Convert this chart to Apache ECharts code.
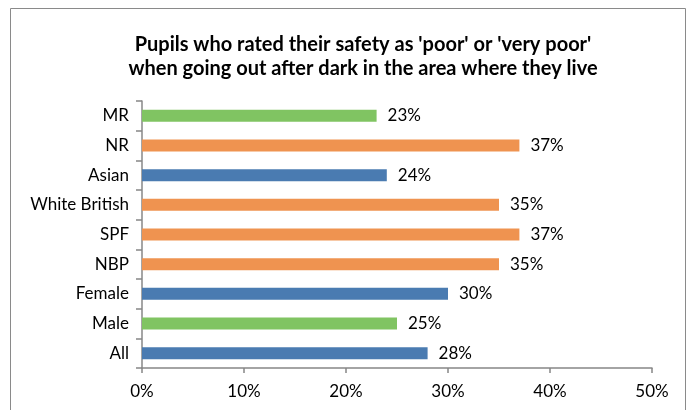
<!DOCTYPE html>
<html><head><meta charset="utf-8">
<script src="https://cdn.jsdelivr.net/npm/echarts@6/dist/echarts.min.js"></script>
<style>html,body{margin:0;padding:0;background:#fff}#c{width:690px;height:410px}</style>
</head><body><div id="c"></div>
<script>
const titleLines = ["Pupils who rated their safety as 'poor' or 'very poor'", "when going out after dark in the area where they live"];
const categories = ["MR", "NR", "Asian", "White British", "SPF", "NBP", "Female", "Male", "All"];
const values = [0.23, 0.37, 0.24, 0.35, 0.37, 0.35, 0.30, 0.25, 0.28];
const barColors = ["#80C462", "#EF9350", "#4A7BB1", "#EF9350", "#EF9350", "#EF9350", "#4A7BB1", "#80C462", "#4A7BB1"];
const xTicks = [0, 0.1, 0.2, 0.3, 0.4, 0.5];

const font = "Lato";
const chart = echarts.init(document.getElementById('c'), null, {renderer: 'canvas'});
chart.setOption({
  animation: false,
  graphic: [{type: 'rect', shape: {x: 10.5, y: 8.5, width: 675, height: 420}, style: {fill: 'none', stroke: '#8a8a8a', lineWidth: 1}}],
  title: {
    text: titleLines.join('\n'), left: 358, top: 28, textAlign: 'center',
    textStyle: {fontFamily: font, fontWeight: 'bold', fontSize: 20, color: '#000', lineHeight: 24}
  },
  grid: {left: 142, right: 38, top: 101, bottom: 42},
  xAxis: {
    type: 'value', min: xTicks[0], max: xTicks[xTicks.length - 1], interval: 0.1,
    axisLine: {show: true, lineStyle: {color: '#878787', width: 1.5}},
    axisTick: {show: true, length: 5, lineStyle: {color: '#878787', width: 1.5}},
    splitLine: {show: false},
    axisLabel: {fontFamily: font, fontSize: 17, color: '#000', margin: 15, formatter: v => Math.round(v * 100) + '%'}
  },
  yAxis: {
    type: 'category', data: categories, inverse: true,
    axisLine: {show: true, lineStyle: {color: '#878787', width: 1.5}},
    axisTick: {show: true, length: 6, lineStyle: {color: '#878787', width: 1.5}},
    axisLabel: {fontFamily: font, fontSize: 17, color: '#000', margin: 13}
  },
  series: [{
    type: 'bar', barWidth: 12,
    data: values.map((v, i) => ({value: v, itemStyle: {color: barColors[i]}})),
    label: {show: true, position: 'right', distance: 11, fontFamily: font, fontSize: 17, color: '#000',
      formatter: p => Math.round(p.value * 100) + '%'}
  }]
});
</script></body></html>
